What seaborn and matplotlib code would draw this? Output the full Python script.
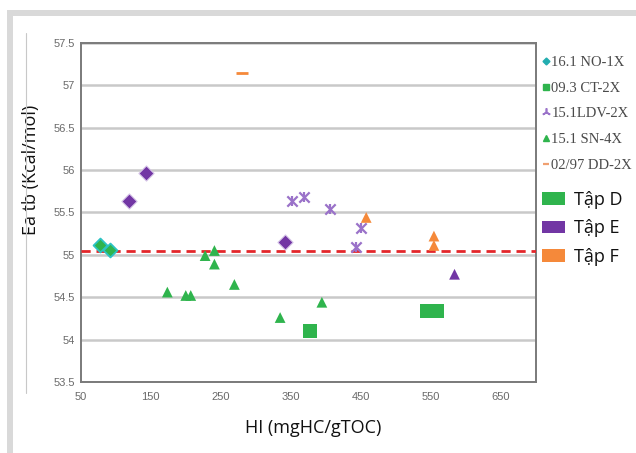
import matplotlib
matplotlib.use("Agg")
import matplotlib.pyplot as plt
import seaborn as sns
import pandas as pd
import numpy as np
from matplotlib.lines import Line2D
from matplotlib.patches import Patch, Rectangle

# ---------------- data ----------------
no1x_hi = [77.6, 91.9, 119.4, 142.9, 342.3]
no1x_ea = [55.12, 55.06, 55.63, 55.96, 55.15]
no1x_set = ["D", "D", "E", "E", "E"]

ct2x_hi = [377.6, 544.7, 559.0]
ct2x_ea = [54.10, 54.34, 54.34]
ct2x_set = ["D", "D", "D"]

ldv_hi = [352.3, 368.6, 406.1, 450.0, 443.3]
ldv_ea = [55.63, 55.68, 55.54, 55.32, 55.09]
ldv_set = ["E", "E", "E", "E", "E"]

sn4x_hi = [173.7, 200.0, 207.1, 227.6, 240.9, 240.9, 269.4, 334.7, 394.3,
           457.6, 554.3, 554.3, 583.7]
sn4x_ea = [54.56, 54.52, 54.52, 54.99, 55.05, 54.89, 54.65, 54.26, 54.44,
           55.44, 55.22, 55.11, 54.77]
sn4x_set = ["D"] * 9 + ["F", "F", "F", "E"]

dd2x_hi = [280.4]
dd2x_ea = [57.14]
dd2x_set = ["F"]

mean_ea = 55.05

well_labels = ["16.1 NO-1X", "09.3 CT-2X", "15.1LDV-2X", "15.1 SN-4X", "02/97 DD-2X"]
set_labels = ["Tập D", "Tập E", "Tập F"]
x_ticks = [50, 150, 250, 350, 450, 550, 650]
y_ticks = [53.5, 54, 54.5, 55, 55.5, 56, 56.5, 57, 57.5]

# ---------------- styling ----------------
set_colors = {"D": "#2fb44d", "E": "#7236a4", "F": "#f5893a"}
ldv_color = "#9a72c9"
cyan_edge = "#2cc3c3"

sns.set_theme(style="white")
plt.rcParams["font.family"] = ["DejaVu Sans"]

W, H = 636, 453
fig = plt.figure(figsize=(W / 100, H / 100), dpi=100)
fig.patch.set_facecolor("white")

# page-like frame decorations
fig.patches.append(Rectangle((7 / W, 1 - 16 / H), 1, 6 / H, transform=fig.transFigure,
                             facecolor="#d9d9d9", edgecolor="none", zorder=0))
fig.patches.append(Rectangle((7 / W, 0), 6 / W, 1 - 10 / H, transform=fig.transFigure,
                             facecolor="#d9d9d9", edgecolor="none", zorder=0))
fig.lines.append(Line2D([26 / W, 26 / W], [1 - 393 / H, 1 - 33 / H], transform=fig.transFigure,
                        color="#c8c8c8", lw=0.8))

left, right, top, bottom = 80.7, 536.0, 42.7, 382.0
ax = fig.add_axes([left / W, 1 - bottom / H, (right - left) / W, (bottom - top) / H])

def df_of(hi, ea, st):
    return pd.DataFrame({"HI": hi, "Ea": ea, "set": st})

no1x = df_of(no1x_hi, no1x_ea, no1x_set)
ct2x = df_of(ct2x_hi, ct2x_ea, ct2x_set)
ldv = df_of(ldv_hi, ldv_ea, ldv_set)
sn4x = df_of(sn4x_hi, sn4x_ea, sn4x_set)
dd2x = df_of(dd2x_hi, dd2x_ea, dd2x_set)

# 16.1 NO-1X diamonds
d = no1x[no1x["set"] == "D"]
sns.scatterplot(data=d, x="HI", y="Ea", marker="D", s=50, color=set_colors["D"],
                edgecolor=cyan_edge, linewidth=1.3, ax=ax, zorder=4, legend=False)
d = no1x[no1x["set"] == "E"]
sns.scatterplot(data=d, x="HI", y="Ea", marker="D", s=60, color=set_colors["E"],
                edgecolor="#d8c8e8", linewidth=0.8, ax=ax, zorder=4, legend=False)
# 09.3 CT-2X squares
sns.scatterplot(data=ct2x, x="HI", y="Ea", marker="s", s=95, color=set_colors["D"],
                edgecolor="none", ax=ax, zorder=4, legend=False)
# 15.1 LDV-2X stars (x + |)
sns.scatterplot(data=ldv, x="HI", y="Ea", marker="x", s=55, color=ldv_color,
                linewidth=1.6, ax=ax, zorder=4, legend=False)
sns.scatterplot(data=ldv, x="HI", y="Ea", marker="|", s=55, color=ldv_color,
                linewidth=1.6, ax=ax, zorder=4, legend=False)
# 15.1 SN-4X triangles
for key in ["D", "E", "F"]:
    d = sn4x[sn4x["set"] == key]
    sns.scatterplot(data=d, x="HI", y="Ea", marker="^", s=60, color=set_colors[key],
                    edgecolor="none", ax=ax, zorder=4, legend=False)
# 02/97 DD-2X dash
sns.scatterplot(data=dd2x, x="HI", y="Ea", marker="_", s=70, color=set_colors["F"],
                linewidth=2.0, ax=ax, zorder=4, legend=False)

# mean line
ax.axhline(mean_ea, color="#e3262a", lw=2.0, dashes=(3.3, 2.1), zorder=3)

ax.set_xlim(50, 700)
ax.set_ylim(53.5, 57.5)
ax.set_xticks(x_ticks)
ax.set_yticks(y_ticks)
ax.set_xticklabels([f"{v:g}" for v in x_ticks])
ax.set_yticklabels([f"{v:g}" for v in y_ticks])
ax.yaxis.grid(True, color="#c9c9c9", lw=1.8, zorder=0)
ax.xaxis.grid(False)
ax.set_axisbelow(True)
for sp in ax.spines.values():
    sp.set_visible(True)
    sp.set_color("#7a7a7a")
    sp.set_linewidth(1.4)

ax.tick_params(axis="both", which="both", direction="out", colors="#7a7a7a",
               labelcolor="#6a6a6a", length=2.5, width=1)
ax.tick_params(axis="x", pad=5)
ax.tick_params(axis="y", pad=1.5)
for lbl in ax.get_xticklabels() + ax.get_yticklabels():
    lbl.set_fontfamily(["Liberation Sans", "DejaVu Sans"])
    lbl.set_fontsize(8)

label_font = ["Open Sans", "DejaVu Sans"]
ax.set_xlabel("HI (mgHC/gTOC)", family=label_font, fontsize=13, color="#111111")
ax.set_ylabel("Ea tb (Kcal/mol)", family=label_font, fontsize=13, color="#111111")
ax.xaxis.set_label_coords((313 - left) / (right - left), -(428 - bottom) / (bottom - top))
ax.yaxis.set_label_coords(-(80.7 - 31) / (right - left), (bottom - 170) / (bottom - top))
ax.xaxis.label.set_verticalalignment("center")
ax.yaxis.label.set_verticalalignment("center")

# legends
h1 = [
    Line2D([], [], ls="", marker="D", ms=3.5, color="#23adb0", mec="#23adb0"),
    Line2D([], [], ls="", marker="s", ms=4, color=set_colors["D"], mec=set_colors["D"]),
    Line2D([], [], ls="", marker=(3, 2, 0), ms=6, color=ldv_color, mew=1.2),
    Line2D([], [], ls="", marker="^", ms=5, color=set_colors["D"], mec=set_colors["D"]),
    Line2D([], [], ls="", marker="_", ms=5, color="#f0a070", mew=1.6),
]
leg1 = fig.legend(h1, well_labels, loc="upper left",
                  bbox_to_anchor=(542 / W, 1 - 56 / H), frameon=False,
                  prop=dict(family=["Liberation Serif", "DejaVu Serif"], size=10.5),
                  handlelength=0.5, handletextpad=0.15, labelspacing=0.85,
                  borderpad=0, borderaxespad=0)
for t in leg1.get_texts():
    t.set_color("#4a4a4a")

h2 = [Patch(facecolor=set_colors[k], edgecolor="none") for k in ["D", "E", "F"]]
leg2 = fig.legend(h2, set_labels, loc="upper left",
                  bbox_to_anchor=(541.5 / W, 1 - 191 / H), frameon=False,
                  prop=dict(family=label_font, size=13),
                  handlelength=1.28, handleheight=0.7, handletextpad=0.5,
                  labelspacing=0.58, borderpad=0, borderaxespad=0)
for t in leg2.get_texts():
    t.set_color("#111111")

fig.savefig("out.png", dpi=100, facecolor="white")
